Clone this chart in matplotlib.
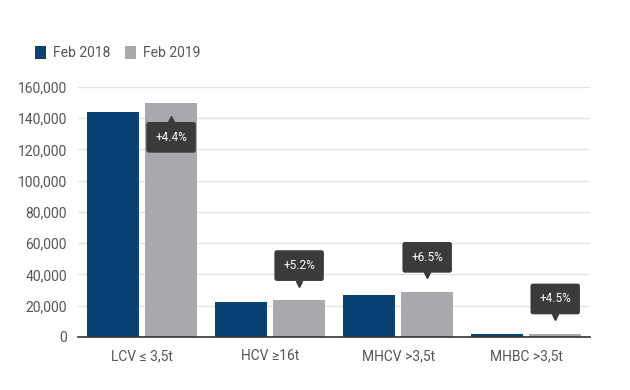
import matplotlib

matplotlib.use("Agg")
import matplotlib.pyplot as plt
import matplotlib.transforms as mtransforms
import numpy as np

categories = ["LCV ≤ 3,5t", "HCV ≥16t", "MHCV >3,5t", "MHBC >3,5t"]
feb_2018 = [143700, 22300, 27000, 2000]
feb_2019 = [150000, 23450, 28750, 2090]
changes = ["+4.4%", "+5.2%", "+6.5%", "+4.5%"]
inside_bar = [True, False, False, False]
y_ticks = [0, 20000, 40000, 60000, 80000, 100000, 120000, 140000, 160000]

BLUE = "#0b4275"
GREY = "#a7a9ac"
CALLOUT = "#3b3b3b"
TEXT = "#555555"

plt.rcParams["font.family"] = ["Roboto", "DejaVu Sans"]

fig = plt.figure(figsize=(6.3, 3.9), dpi=100)
ax = fig.add_axes([0.124, 0.136, 0.813, 0.641])

x = np.arange(len(categories))
width = 0.405
gap = 0.047
ax.bar(x - (width + gap) / 2, feb_2018, width, color=BLUE, zorder=2, label="Feb 2018")
ax.bar(x + (width + gap) / 2, feb_2019, width, color=GREY, zorder=2, label="Feb 2019")

ax.set_xlim(-0.5, len(categories) - 0.5)
ax.set_ylim(0, 160000)
ax.set_yticks(y_ticks, [f"{v:,}" for v in y_ticks])
ax.set_xticks(x, categories)
ax.tick_params(axis="both", length=0, labelsize=10, colors=TEXT, pad=8)
ax.tick_params(axis="x", pad=9)
ax.grid(axis="y", color="#e2e2e2", linewidth=1, zorder=0)
for side in ["top", "right", "left"]:
    ax.spines[side].set_visible(False)
ax.spines["bottom"].set_color("#333333")
ax.spines["bottom"].set_linewidth(1.2)
ax.spines["bottom"].set_zorder(3)

for i, (value, label, inside) in enumerate(zip(feb_2019, changes, inside_bar)):
    xpos = x[i] + (width + gap) / 2
    sign = -1 if inside else 1
    ax.annotate(
        label,
        xy=(xpos, value),
        xytext=(0, sign * 25),
        textcoords="offset points",
        ha="center",
        va="center",
        fontsize=8.5,
        color="white",
        zorder=5,
        bbox=dict(boxstyle="round,pad=0.75,rounding_size=0.2", fc=CALLOUT, ec="none"),
    )
    tip = mtransforms.offset_copy(ax.transData, fig=fig, x=0, y=sign * 12, units="points")
    ax.plot(
        xpos,
        value,
        marker="^" if inside else "v",
        markersize=5,
        color=CALLOUT,
        transform=tip,
        zorder=5,
        clip_on=False,
    )

fig.legend(
    loc="upper left",
    bbox_to_anchor=(0.035, 0.915),
    ncol=2,
    frameon=False,
    fontsize=10,
    handlelength=0.85,
    handleheight=1.1,
    handletextpad=0.5,
    columnspacing=1.0,
    labelcolor=TEXT,
)

fig.savefig("out.png", dpi=100)
